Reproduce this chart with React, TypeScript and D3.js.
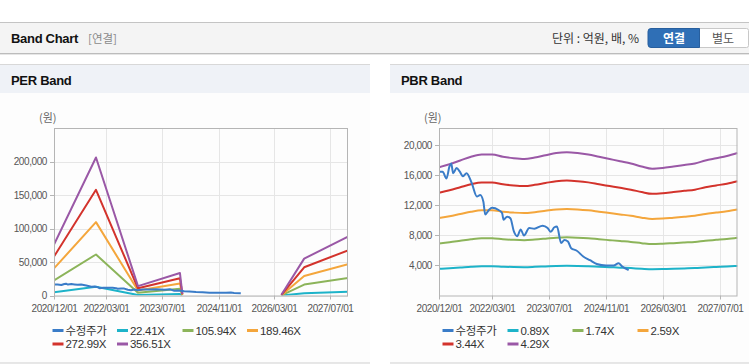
import * as d3 from "d3";

// ---- shared data ----
const tickDates = ["2020-12-01", "2022-03-01", "2023-07-01", "2024-11-01", "2026-03-01", "2027-07-01"];
const xDomain = ["2020-12-01", "2027-12-01"];

// 수정주가 (adjusted close)
const price: [string, number][] = [
  ["2020-12-01", 16600], ["2020-12-07", 16500], ["2021-01-01", 16500], ["2021-02-03", 15600],
  ["2021-03-01", 17200], ["2021-03-16", 17600], ["2021-04-01", 16300], ["2021-05-01", 17000],
  ["2021-05-28", 16500], ["2021-06-25", 15900], ["2021-07-25", 16300], ["2021-09-07", 15000],
  ["2021-10-22", 13200], ["2021-11-19", 13400], ["2021-12-16", 12500], ["2022-01-01", 10800],
  ["2022-02-01", 11400], ["2022-02-28", 11700], ["2022-04-25", 11400], ["2022-05-25", 11000],
  ["2022-06-07", 10100], ["2022-07-07", 10500], ["2022-08-04", 10300], ["2022-09-04", 8500],
  ["2022-10-01", 7900], ["2022-11-01", 8800], ["2022-11-28", 8000], ["2023-01-13", 9000],
  ["2023-02-25", 8900], ["2023-05-07", 9300], ["2023-06-19", 9000], ["2023-07-16", 8500],
  ["2023-08-16", 9100], ["2023-09-07", 9200], ["2023-10-13", 7000], ["2023-11-10", 7400],
  ["2023-12-10", 7200], ["2024-01-07", 6300], ["2024-02-21", 6000], ["2024-04-19", 5200],
  ["2024-06-16", 4700], ["2024-08-13", 4200], ["2024-11-01", 4000], ["2025-01-04", 4000],
  ["2025-02-16", 4300], ["2025-03-16", 3900], ["2025-05-13", 3400],
];

// ---- PER band ----
const perDates = ["2020-12-01", "2021-12-01", "2022-12-01", "2023-12-01", "2023-12-22", "2024-06-01", "2026-05-01", "2026-11-15", "2027-12-01"];
const perNames = ["22.41X", "105.94X", "189.46X", "272.99X", "356.51X"];
const per22 = [4780, 12960, 880, 2110, 160, null, 60, 3460, 5540];
const per105 = [22600, 61200, 4160, 9960, 740, null, 300, 16300, 26200];
const per189 = [40400, 109500, 7440, 17800, 1330, null, 530, 29200, 46800];
const per272 = [58200, 157700, 10700, 25650, 1900, null, 770, 42100, 67400];
const per356 = [76000, 206000, 14000, 33500, 2500, null, 1000, 55000, 88000];
const perTicks = [0, 50000, 100000, 150000, 200000];

// ---- PBR band ----
const pbrDates = [
  "2020-12-01", "2021-03-01", "2021-06-01", "2021-09-01", "2021-12-01", "2022-03-01", "2022-06-01", "2022-09-01",
  "2022-12-01", "2023-03-01", "2023-06-01", "2023-09-01", "2023-12-01", "2024-03-01", "2024-06-01", "2024-09-01",
  "2024-12-01", "2025-03-01", "2025-06-01", "2025-09-01", "2025-12-01", "2026-03-01", "2026-06-01", "2026-09-01",
  "2026-12-01", "2027-03-01", "2027-06-01", "2027-09-01", "2027-12-01",
];
const pbrNames = ["0.89X", "1.74X", "2.59X", "3.44X", "4.29X"];
const pbr089 = [3550, 3630, 3730, 3840, 3900, 3900, 3840, 3800, 3780, 3820, 3880, 3940, 3960, 3940, 3900, 3840, 3780, 3710, 3650, 3570, 3510, 3530, 3570, 3610, 3650, 3730, 3800, 3860, 3940];
const pbr174 = [6940, 7100, 7300, 7500, 7630, 7630, 7500, 7420, 7380, 7460, 7580, 7710, 7750, 7710, 7630, 7500, 7380, 7260, 7140, 6980, 6850, 6900, 6980, 7060, 7140, 7300, 7420, 7540, 7710];
const pbr259 = [10320, 10570, 10870, 11170, 11350, 11350, 11170, 11050, 10990, 11110, 11290, 11470, 11530, 11470, 11350, 11170, 10990, 10810, 10630, 10380, 10200, 10260, 10380, 10500, 10630, 10870, 11050, 11230, 11470];
const pbr344 = [13710, 14030, 14430, 14830, 15080, 15080, 14830, 14670, 14590, 14750, 15000, 15240, 15320, 15240, 15080, 14830, 14590, 14350, 14110, 13790, 13550, 13630, 13790, 13950, 14110, 14430, 14670, 14910, 15240];
const pbr429 = [17100, 17500, 18000, 18500, 18800, 18800, 18500, 18300, 18200, 18400, 18700, 19000, 19100, 19000, 18800, 18500, 18200, 17900, 17600, 17200, 16900, 17000, 17200, 17400, 17600, 18000, 18300, 18600, 19000];
const pbrTicks = [4000, 8000, 12000, 16000, 20000];

const priceName = "수정주가";
const priceColor = "#3a7cc8";
const bandColors = ["#1db3c9", "#8cb45a", "#f4a63c", "#d3332c", "#9a58a6"];

const FONT = "'Liberation Sans', Arial, 'Noto Sans CJK KR', sans-serif";
const KFONT = "'Noto Sans CJK KR', 'Liberation Sans', sans-serif";

const parse = d3.timeParse("%Y-%m-%d");
const fmt = d3.timeFormat("%Y/%m/%d");

type Pt = { d: Date; v: number | null };

type PanelProps = {
  id: string;
  px: number; // panel left
  pw: number; // panel width
  title: string;
  left: number;
  right: number;
  top: number;
  bottom: number;
  yMax: number;
  yTicks: number[];
  dates: string[];
  bands: (number | null)[][];
  names: string[];
  smooth: boolean;
  legendX: number[];
};

function Panel(p: PanelProps) {
  const x = d3.scaleTime().domain(xDomain.map((s) => parse(s)!)).range([p.left, p.right]);
  const y = d3.scaleLinear().domain([0, p.yMax]).range([p.bottom, p.top]);

  const line = d3
    .line<Pt>()
    .defined((d) => d.v !== null)
    .x((d) => x(d.d))
    .y((d) => y(d.v as number))
    .curve(p.smooth ? d3.curveMonotoneX : d3.curveLinear);

  const bandPts = p.bands.map((vals) => vals.map((v, i) => ({ d: parse(p.dates[i])!, v })));
  const pricePts = price.map(([s, v]) => ({ d: parse(s)!, v }));

  const legend = [{ name: priceName, color: priceColor }, ...p.names.map((n, i) => ({ name: n, color: bandColors[i] }))];

  return (
    <g>
      {/* panel body + title bar */}
      <rect x={p.px} y={64} width={p.pw} height={299} fill="#fdfdfd" />
      <rect x={p.px} y={64.5} width={p.pw} height={28.5} fill="#eff2f7" />
      <line x1={p.px} x2={p.px + p.pw} y1={64.5} y2={64.5} stroke="#d8d8d8" />
      <line x1={p.px} x2={p.px + p.pw} y1={363} y2={363} stroke="#cfcfcf" />
      <text x={p.px + 11} y={85} fontFamily={FONT} fontWeight="bold" fontSize={13} letterSpacing={-0.3} fill="#111">
        {p.title}
      </text>
      <text x={p.left - 15} y={122} fontFamily={KFONT} fontSize={11} fill="#666">
        (원)
      </text>

      {/* grid */}
      {p.yTicks.map((t) => (
        <line key={"gy" + t} x1={p.left} x2={p.right} y1={Math.round(y(t)) + 0.5} y2={Math.round(y(t)) + 0.5} stroke="#e6e6e6" />
      ))}
      {tickDates.map((s) => {
        const xx = Math.round(x(parse(s)!)) + 0.5;
        return <line key={"gx" + s} x1={xx} x2={xx} y1={p.top} y2={p.bottom} stroke="#e6e6e6" />;
      })}

      {/* lines */}
      <clipPath id={"clip-" + p.id}>
        <rect x={p.left} y={p.top} width={p.right - p.left} height={p.bottom - p.top} />
      </clipPath>
      <g clipPath={`url(#clip-${p.id})`} fill="none" strokeWidth={2} strokeLinejoin="round">
        {bandPts.map((pts, i) => (
          <path key={"b" + i} d={line(pts) || ""} stroke={bandColors[i]} />
        ))}
        <path d={line(pricePts) || ""} stroke={priceColor} />
      </g>

      {/* frame */}
      <rect x={p.left + 0.5} y={p.top + 0.5} width={p.right - p.left - 1} height={p.bottom - p.top} fill="none" stroke="#b5b5b5" />

      {/* y axis */}
      {p.yTicks.map((t) => (
        <g key={"yt" + t}>
          <line x1={p.left - 4} x2={p.left} y1={Math.round(y(t)) + 0.5} y2={Math.round(y(t)) + 0.5} stroke="#b5b5b5" />
          <text x={p.left - 7} y={y(t) + 3.5} textAnchor="end" fontFamily={FONT} fontSize={10} letterSpacing={-0.4} fill="#555">
            {d3.format(",")(t)}
          </text>
        </g>
      ))}

      {/* x axis */}
      {tickDates.map((s) => {
        const xx = Math.round(x(parse(s)!)) + 0.5;
        return (
          <g key={"xt" + s}>
            <line x1={xx} x2={xx} y1={p.bottom} y2={p.bottom + 4} stroke="#b5b5b5" />
            <text x={xx} y={p.bottom + 16} textAnchor="middle" fontFamily={FONT} fontSize={10} letterSpacing={-0.4} fill="#555">
              {fmt(parse(s)!)}
            </text>
          </g>
        );
      })}

      {/* legend */}
      {legend.map((it, i) => {
        const lx = p.legendX[i % 4];
        const ly = i < 4 ? 330.5 : 344;
        return (
          <g key={"lg" + i}>
            <line x1={lx} x2={lx + 11} y1={ly} y2={ly} stroke={it.color} strokeWidth={3} />
            <text x={lx + 13} y={ly + 4} fontFamily={FONT} fontSize={11.5} letterSpacing={-0.3} fill="#333">
              {it.name}
            </text>
          </g>
        );
      })}
    </g>
  );
}

export default function App() {
  return (
    <svg width={749} height={364} style={{ position: "absolute", left: 0, top: 0, background: "#fff" }}>
      {/* header bar */}
      <rect x={0} y={22} width={749} height={31} fill="#f4f4f4" />
      <line x1={0} x2={749} y1={22.5} y2={22.5} stroke="#c4c4c4" />
      <line x1={0} x2={749} y1={53.5} y2={53.5} stroke="#bcbcbc" />
      <line x1={0} x2={749} y1={54.5} y2={54.5} stroke="#e6e6e6" />
      <text x={11} y={43} fontFamily={FONT} fontWeight="bold" fontSize={13} letterSpacing={-0.3} fill="#111">
        Band Chart
      </text>
      <text x={88} y={43} fontFamily={KFONT} fontSize={11.5} fill="#8a8a8a">
        [연결]
      </text>
      <text x={552} y={43} fontFamily={KFONT} fontSize={12} fill="#333">
        단위 : 억원, 배, %
      </text>
      <path d="M699,28.5 H746.5 a2,2 0 0 1 2,2 V45.5 a2,2 0 0 1 -2,2 H699 Z" fill="#fff" stroke="#c8c8c8" />
      <path d="M651,28.5 H699.5 V47.5 H651 a3,3 0 0 1 -3,-3 V31.5 a3,3 0 0 1 3,-3 Z" fill="#2f6fb6" stroke="#285f9e" />
      <text x={674} y={42.5} textAnchor="middle" fontFamily={KFONT} fontWeight="bold" fontSize={12} fill="#fff">
        연결
      </text>
      <text x={723} y={42.5} textAnchor="middle" fontFamily={KFONT} fontSize={12} fill="#555">
        별도
      </text>

      <Panel
        id="per"
        px={0}
        pw={370}
        title="PER Band"
        left={54}
        right={348}
        top={128}
        bottom={295.5}
        yMax={250000}
        yTicks={perTicks}
        dates={perDates}
        bands={[per22, per105, per189, per272, per356]}
        names={perNames}
        smooth={false}
        legendX={[52.5, 117, 182.5, 247]}
      />
      <Panel
        id="pbr"
        px={390}
        pw={359}
        title="PBR Band"
        left={439}
        right={737.5}
        top={128}
        bottom={295.5}
        yMax={22330}
        yTicks={pbrTicks}
        dates={pbrDates}
        bands={[pbr089, pbr174, pbr259, pbr344, pbr429]}
        names={pbrNames}
        smooth={true}
        legendX={[442.5, 507.5, 572.5, 637.5]}
      />
    </svg>
  );
}
